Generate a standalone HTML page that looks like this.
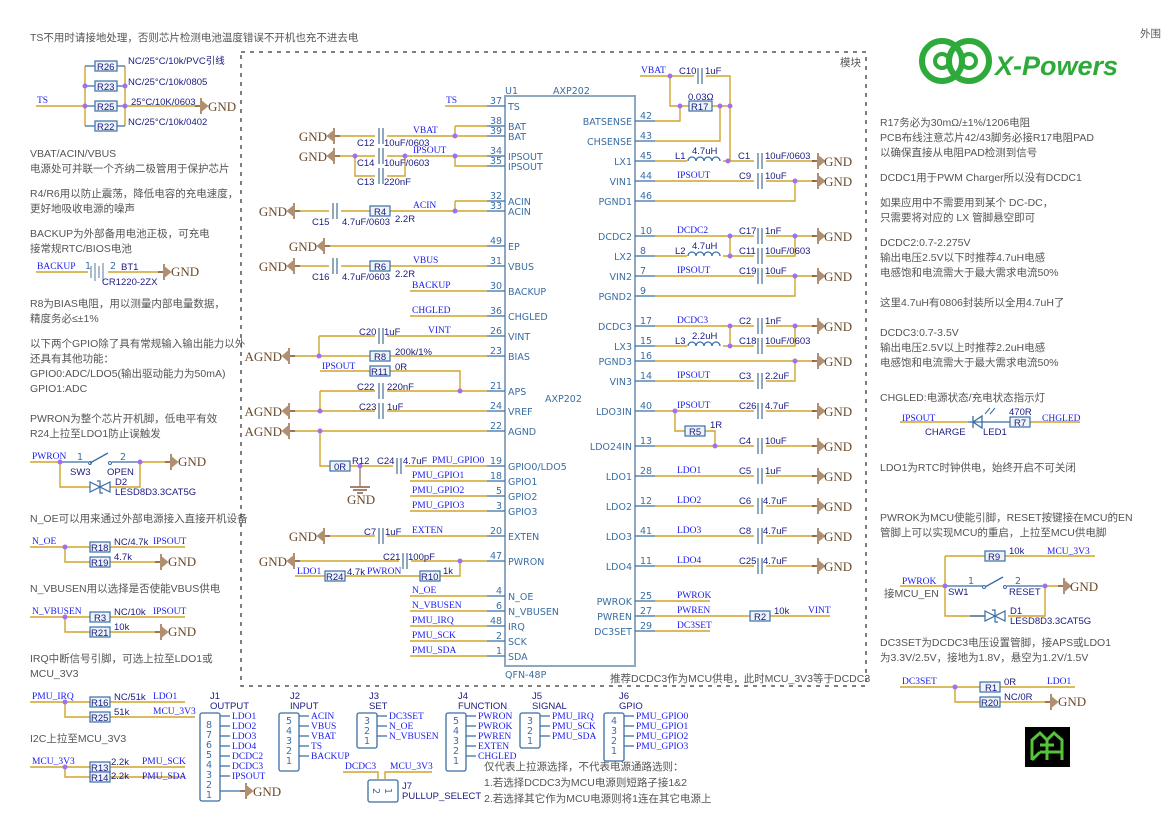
<!DOCTYPE html>
<html><head><meta charset="utf-8"><style>
body{margin:0;background:#fff}
svg{display:block}
.w{stroke:#d0a42a;stroke-width:1.4;fill:none}
.p{stroke:#3a6ea5;stroke-width:1.3;fill:none}
.n{font-family:"Liberation Serif",serif;font-size:9.5px;fill:#1a1aee}
.c{font-family:"Liberation Sans",sans-serif;font-size:9.5px;fill:#1a1a80}
.pl{font-family:"DejaVu Sans","Liberation Sans",sans-serif;font-size:9.5px;fill:#3a6ea5}
.g{font-family:"Liberation Serif",serif;font-size:13px;fill:#6b4a2a}
.ge{font-family:"Liberation Serif",serif;font-size:13px;fill:#6b4a2a;text-anchor:end}
.t{font-family:"Liberation Sans","Noto Sans CJK SC",sans-serif;font-size:10.5px;fill:#555}
.d{fill:#a070f0}
.r{fill:#eef3f8;stroke:#3a6ea5;stroke-width:1.2}
</style></head><body>
<svg width="1169" height="827" viewBox="0 0 1169 827" xmlns="http://www.w3.org/2000/svg">
<defs>
<g id="gr"><path d="M0 0H6" stroke="#6b3a1a" stroke-width="1.4"/><path d="M6 -8V8M6 -5L12 0L6 5Z" fill="#b09070" stroke="#b09070" stroke-width="2"/></g>
<g id="gl"><path d="M0 0H-6" stroke="#6b3a1a" stroke-width="1.4"/><path d="M-6 -8V8M-6 -5L-12 0L-6 5Z" fill="#b09070" stroke="#b09070" stroke-width="2"/></g>
<g id="cap"><rect x="-6" y="-1" width="12" height="2" fill="#fff"/><path d="M-2 -8V8M2 -8V8" stroke="#8fa8c0" stroke-width="2"/></g>
<g id="ind"><rect x="-1" y="-6" width="36" height="8" fill="#fff"/><path d="M0 0a4 4 0 0 1 8 0a4 4 0 0 1 8 0a4 4 0 0 1 8 0a4 4 0 0 1 8 0" stroke="#3a6ea5" stroke-width="1.3" fill="none"/></g>
</defs>

<text class="t" x="30" y="41">TS不用时请接地处理，否则芯片检测电池温度错误不开机也充不进去电</text>
<text class="t" x="1140" y="37">外围</text>
<text class="t" x="840" y="66">模块</text>
<rect x="241" y="52" width="625" height="634" fill="none" stroke="#555" stroke-width="1.5" stroke-dasharray="4,5"/>

<g fill="none" stroke="#2eaa3a" stroke-width="6">
<circle cx="942" cy="61" r="20"/><circle cx="969" cy="61" r="20"/>
</g>
<circle cx="942" cy="61" r="7" fill="none" stroke="#2eaa3a" stroke-width="4"/><circle cx="969" cy="61" r="7" fill="none" stroke="#2eaa3a" stroke-width="4"/>
<text x="995" y="75" font-family="Liberation Sans,sans-serif" font-weight="bold" font-style="italic" font-size="27" fill="#2eaa3a">X-Powers</text>

<text class="n" x="37" y="103">TS</text>
<path class="w" d="M36 106H85M85 66V126M125 66V126M125 106H195"/>
<path class="p" d="M85 66H125M85 86H125M85 106H125M85 126H125"/>
<rect class="r" x="95" y="61" width="22" height="10"/><text class="c" x="97" y="70">R26</text>
<rect class="r" x="95" y="81" width="22" height="10"/><text class="c" x="97" y="90">R23</text>
<rect class="r" x="95" y="101" width="22" height="10"/><text class="c" x="97" y="110">R25</text>
<rect class="r" x="95" y="121" width="22" height="10"/><text class="c" x="97" y="130">R22</text>
<circle class="d" cx="85" cy="86" r="2.5"/><circle class="d" cx="85" cy="106" r="2.5"/><circle class="d" cx="125" cy="86" r="2.5"/><circle class="d" cx="125" cy="106" r="2.5"/>
<text class="c" x="128" y="64">NC/25°C/10k/PVC引线</text>
<text class="c" x="128" y="85">NC/25°C/10k/0805</text>
<text class="c" x="131" y="105">25°C/10K/0603</text>
<text class="c" x="128" y="125">NC/25°C/10k/0402</text>
<use href="#gr" x="195" y="106"/><text class="g" x="208" y="111">GND</text>

<text class="t" x="30" y="157">VBAT/ACIN/VBUS</text>
<text class="t" x="30" y="172">电源处可并联一个齐纳二极管用于保护芯片</text>
<text class="t" x="30" y="197">R4/R6用以防止震荡，降低电容的充电速度，</text>
<text class="t" x="30" y="212">更好地吸收电源的噪声</text>
<text class="t" x="30" y="237">BACKUP为外部备用电池正极，可充电</text>
<text class="t" x="30" y="252">接常规RTC/BIOS电池</text>
<text class="n" x="37" y="269">BACKUP</text>
<path class="w" d="M36 272H88M108 272H158"/>
<path d="M91 266V278M95 263V281M99 266V278M103 263V281" stroke="#8fa8c0" stroke-width="1.5"/>
<text class="pl" x="85" y="269">1</text><text class="pl" x="110" y="269">2</text><text class="c" x="121" y="270">BT1</text><text class="c" x="102" y="285">CR1220-2ZX</text>
<use href="#gr" x="158" y="272"/><text class="g" x="171" y="276">GND</text>
<text class="t" x="30" y="307">R8为BIAS电阻，用以测量内部电量数据，</text>
<text class="t" x="30" y="322">精度务必≤±1%</text>
<text class="t" x="30" y="347">以下两个GPIO除了具有常规输入输出能力以外</text>
<text class="t" x="30" y="362">还具有其他功能：</text>
<text class="t" x="30" y="377">GPIO0:ADC/LDO5(输出驱动能力为50mA)</text>
<text class="t" x="30" y="392">GPIO1:ADC</text>
<text class="t" x="30" y="422">PWRON为整个芯片开机脚，低电平有效</text>
<text class="t" x="30" y="437">R24上拉至LDO1防止误触发</text>

<text class="n" x="32" y="459">PWRON</text>
<path class="w" d="M30 462H60M60 462V487H90M140 462H165M140 462V487H110"/>
<path class="p" d="M60 462H88M112 462H140"/><path d="M90 463L108 453" stroke="#3a6ea5" stroke-width="1.3"/>
<circle cx="90" cy="463" r="1.5" fill="none" stroke="#3a6ea5"/><circle cx="110" cy="463" r="1.5" fill="none" stroke="#3a6ea5"/>
<path d="M90 482L100 487L90 492ZM110 482L100 487L110 492ZM97 481L100 481L100 493L103 493" fill="none" stroke="#3a6ea5" stroke-width="1.2"/>
<circle class="d" cx="60" cy="462" r="2.5"/><circle class="d" cx="140" cy="462" r="2.5"/>
<text class="pl" x="77" y="460">1</text><text class="pl" x="120" y="460">2</text>
<text class="c" x="70" y="475">SW3</text><text class="c" x="107" y="475">OPEN</text>
<text class="c" x="115" y="485">D2</text><text class="c" x="115" y="495">LESD8D3.3CAT5G</text>
<use href="#gr" x="165" y="462"/><text class="g" x="178" y="466">GND</text>

<text class="t" x="30" y="522">N_OE可以用来通过外部电源接入直接开机设备</text>
<text class="n" x="32" y="544">N_OE</text>
<path class="w" d="M30 547H90M65 547V562H90M110 547H185M110 562H155"/>
<rect class="r" x="90" y="542" width="20" height="10"/><text class="c" x="91" y="551">R18</text>
<rect class="r" x="90" y="557" width="20" height="10"/><text class="c" x="91" y="566">R19</text>
<circle class="d" cx="65" cy="547" r="2.5"/>
<text class="c" x="114" y="545">NC/4.7k</text><text class="n" x="153" y="544">IPSOUT</text><text class="c" x="114" y="560">4.7k</text>
<use href="#gr" x="155" y="562"/><text class="g" x="168" y="566">GND</text>

<text class="t" x="30" y="592">N_VBUSEN用以选择是否使能VBUS供电</text>
<text class="n" x="32" y="614">N_VBUSEN</text>
<path class="w" d="M30 617H90M65 617V632H90M110 617H185M110 632H155"/>
<rect class="r" x="90" y="612" width="20" height="10"/><text class="c" x="94" y="621">R3</text>
<rect class="r" x="90" y="627" width="20" height="10"/><text class="c" x="91" y="636">R21</text>
<circle class="d" cx="65" cy="617" r="2.5"/>
<text class="c" x="114" y="615">NC/10k</text><text class="n" x="153" y="614">IPSOUT</text><text class="c" x="114" y="630">10k</text>
<use href="#gr" x="155" y="632"/><text class="g" x="168" y="636">GND</text>

<text class="t" x="30" y="662">IRQ中断信号引脚，可选上拉至LDO1或</text>
<text class="t" x="30" y="677">MCU_3V3</text>
<text class="n" x="32" y="699">PMU_IRQ</text>
<path class="w" d="M30 702H90M65 702V717H90M110 702H185M110 717H195"/>
<rect class="r" x="90" y="697" width="20" height="10"/><text class="c" x="91" y="706">R16</text>
<rect class="r" x="90" y="712" width="20" height="10"/><text class="c" x="91" y="721">R25</text>
<circle class="d" cx="65" cy="702" r="2.5"/>
<text class="c" x="114" y="700">NC/51k</text><text class="n" x="153" y="699">LDO1</text>
<text class="c" x="114" y="715">51k</text><text class="n" x="153" y="714">MCU_3V3</text>
<text class="t" x="30" y="742">I2C上拉至MCU_3V3</text>
<text class="n" x="32" y="764">MCU_3V3</text>
<path class="w" d="M30 767H90M65 767V777H90M110 767H185M110 777H185"/>
<rect class="r" x="90" y="762" width="20" height="10"/><text class="c" x="91" y="771">R13</text>
<rect class="r" x="90" y="772" width="20" height="10"/><text class="c" x="91" y="781">R14</text>
<circle class="d" cx="65" cy="767" r="2.5"/>
<text class="c" x="111" y="765">2.2k</text><text class="n" x="142" y="764">PMU_SCK</text>
<text class="c" x="111" y="779">2.2k</text><text class="n" x="142" y="779">PMU_SDA</text>

<rect x="505" y="96" width="130" height="570" fill="none" stroke="#8fa8c0" stroke-width="2"/>
<text class="pl" x="505" y="94">U1</text><text class="pl" x="553" y="94">AXP202</text>
<text class="pl" x="545" y="402" font-size="12.5">AXP202</text>
<text class="pl" x="505" y="678" font-size="12">QFN-48P</text>

<g class="p">
<path d="M487 106H505M487 126H505M487 136H505M487 156H505M487 166H505M487 201H505M487 211H505M487 246H505M487 266H505M487 291H505M487 316H505M487 336H505M487 356H505M487 391H505M487 411H505M487 431H505M487 466H505M487 481H505M487 496H505M487 511H505M487 536H505M487 561H505M487 596H505M487 611H505M487 626H505M487 641H505M487 656H505"/>
</g>
<g class="pl">
<text x="490" y="104">37</text><text x="490" y="124">38</text><text x="490" y="134">39</text><text x="490" y="154">34</text><text x="490" y="164">35</text><text x="490" y="199">32</text><text x="490" y="209">33</text><text x="490" y="244">49</text><text x="490" y="264">31</text><text x="490" y="289">30</text><text x="490" y="314">36</text><text x="490" y="334">26</text><text x="490" y="354">23</text><text x="490" y="389">21</text><text x="490" y="409">24</text><text x="490" y="429">22</text><text x="490" y="464">19</text><text x="490" y="479">18</text><text x="496" y="494">5</text><text x="496" y="509">3</text><text x="490" y="534">20</text><text x="490" y="559">47</text><text x="496" y="594">4</text><text x="496" y="609">6</text><text x="490" y="624">48</text><text x="496" y="639">2</text><text x="496" y="654">1</text>
<text x="508" y="110">TS</text><text x="508" y="130">BAT</text><text x="508" y="140">BAT</text><text x="508" y="160">IPSOUT</text><text x="508" y="170">IPSOUT</text><text x="508" y="205">ACIN</text><text x="508" y="215">ACIN</text><text x="508" y="250">EP</text><text x="508" y="270">VBUS</text><text x="508" y="295">BACKUP</text><text x="508" y="320">CHGLED</text><text x="508" y="340">VINT</text><text x="508" y="360">BIAS</text><text x="508" y="395">APS</text><text x="508" y="415">VREF</text><text x="508" y="435">AGND</text><text x="508" y="470">GPIO0/LDO5</text><text x="508" y="485">GPIO1</text><text x="508" y="500">GPIO2</text><text x="508" y="515">GPIO3</text><text x="508" y="540">EXTEN</text><text x="508" y="565">PWRON</text><text x="508" y="600">N_OE</text><text x="508" y="615">N_VBUSEN</text><text x="508" y="630">IRQ</text><text x="508" y="645">SCK</text><text x="508" y="660">SDA</text>
</g>

<g class="w">
<path d="M445 106H487"/>
<path d="M340 136H487M455 126H487M455 126V136"/>
<path d="M340 156H487M455 156V166H487M355 156V176H405V156"/>
<path d="M300 211H487M455 201H487M455 201V211"/>
<path d="M330 246H487"/>
<path d="M300 266H487"/>
<path d="M410 291H487M410 316H487"/>
<path d="M319 336H487M319 336V356"/>
<path d="M295 356H487"/>
<path d="M320 371H460V391"/>
<path d="M320 391H487M320 391V411"/>
<path d="M295 411H487"/>
<path d="M295 431H487M320 431V466H330"/>
<path d="M350 466H487"/>
<path d="M410 481H487M410 496H487M410 511H487"/>
<path d="M330 536H487"/>
<path d="M300 561H487M295 576H460V561"/>
<path d="M410 596H487M410 611H487M410 626H487M410 641H487M410 656H487"/>
</g>
<path d="M360 466V486" stroke="#a08060" stroke-width="1.4"/>
<path d="M350 487H370M353 490H367M357 493H363" stroke="#6b3a1a" stroke-width="1.2"/>
<text class="g" x="347" y="504" font-size="12">GND</text>
<g>
<use href="#cap" x="381" y="136"/><use href="#cap" x="381" y="156"/><use href="#cap" x="381" y="176"/>
<use href="#cap" x="335" y="211"/><use href="#cap" x="335" y="266"/>
<use href="#cap" x="381" y="336"/><use href="#cap" x="381" y="391"/><use href="#cap" x="381" y="411"/>
<use href="#cap" x="399" y="466"/><use href="#cap" x="381" y="536"/><use href="#cap" x="405" y="561"/>
</g>
<rect class="r" x="370" y="206" width="20" height="10"/><text class="c" x="374" y="215">R4</text>
<rect class="r" x="370" y="261" width="20" height="10"/><text class="c" x="374" y="270">R6</text>
<rect class="r" x="370" y="351" width="20" height="10"/><text class="c" x="374" y="360">R8</text>
<rect class="r" x="370" y="366" width="20" height="10"/><text class="c" x="371" y="375">R11</text>
<rect class="r" x="330" y="461" width="20" height="10"/><text class="c" x="334" y="470">0R</text>
<rect class="r" x="325" y="571" width="20" height="10"/><text class="c" x="326" y="580">R24</text>
<rect class="r" x="420" y="571" width="20" height="10"/><text class="c" x="421" y="580">R10</text>
<g fill="#a070f0">
<circle cx="455" cy="136" r="2.5"/><circle cx="355" cy="156" r="2.5"/><circle cx="405" cy="156" r="2.5"/><circle cx="455" cy="156" r="2.5"/><circle cx="455" cy="211" r="2.5"/><circle cx="319" cy="356" r="2.5"/><circle cx="460" cy="391" r="2.5"/><circle cx="320" cy="411" r="2.5"/><circle cx="320" cy="431" r="2.5"/><circle cx="360" cy="466" r="2.5"/><circle cx="460" cy="561" r="2.5"/>
</g>
<use href="#gl" x="340" y="136"/><text class="ge" x="327" y="141">GND</text>
<use href="#gl" x="340" y="156"/><text class="ge" x="327" y="161">GND</text>
<use href="#gl" x="300" y="211"/><text class="ge" x="287" y="216">GND</text>
<use href="#gl" x="330" y="246"/><text class="ge" x="317" y="251">GND</text>
<use href="#gl" x="300" y="266"/><text class="ge" x="287" y="271">GND</text>
<use href="#gl" x="295" y="356"/><text class="ge" x="282" y="361">AGND</text>
<use href="#gl" x="295" y="411"/><text class="ge" x="282" y="416">AGND</text>
<use href="#gl" x="295" y="431"/><text class="ge" x="282" y="436">AGND</text>
<use href="#gl" x="330" y="536"/><text class="ge" x="317" y="541">GND</text>
<use href="#gl" x="300" y="561"/><text class="ge" x="287" y="566">GND</text>
<g class="n">
<text x="446" y="103">TS</text><text x="413" y="133">VBAT</text><text x="413" y="153">IPSOUT</text><text x="413" y="208">ACIN</text><text x="413" y="263">VBUS</text><text x="412" y="288">BACKUP</text><text x="412" y="313">CHGLED</text><text x="428" y="333">VINT</text><text x="322" y="369">IPSOUT</text><text x="432" y="463">PMU_GPIO0</text><text x="412" y="478">PMU_GPIO1</text><text x="412" y="493">PMU_GPIO2</text><text x="412" y="508">PMU_GPIO3</text><text x="412" y="533">EXTEN</text><text x="297" y="574">LDO1</text><text x="367" y="574">PWRON</text><text x="412" y="593">N_OE</text><text x="412" y="608">N_VBUSEN</text><text x="412" y="623">PMU_IRQ</text><text x="412" y="638">PMU_SCK</text><text x="412" y="653">PMU_SDA</text>
</g>
<g class="c">
<text x="357" y="146">C12</text><text x="384" y="146">10uF/0603</text><text x="357" y="166">C14</text><text x="384" y="166">10uF/0603</text><text x="357" y="185">C13</text><text x="384" y="185">220nF</text>
<text x="312" y="225">C15</text><text x="342" y="225">4.7uF/0603</text><text x="395" y="222">2.2R</text>
<text x="312" y="280">C16</text><text x="342" y="280">4.7uF/0603</text><text x="395" y="277">2.2R</text>
<text x="359" y="335">C20</text><text x="384" y="335">1uF</text><text x="395" y="355">200k/1%</text><text x="395" y="370">0R</text>
<text x="357" y="390">C22</text><text x="387" y="390">220nF</text><text x="359" y="410">C23</text><text x="387" y="410">1uF</text>
<text x="352" y="464">R12</text><text x="377" y="464">C24</text><text x="403" y="464">4.7uF</text>
<text x="364" y="535">C7</text><text x="385" y="535">1uF</text><text x="383" y="560">C21</text><text x="408" y="560">100pF</text>
<text x="347" y="575">4.7k</text><text x="443" y="574">1k</text>
</g>

<path class="p" d="M635 121H655M635 141H655M635 161H655M635 181H655M635 201H655M635 236H655M635 256H655M635 276H655M635 296H655M635 326H655M635 346H655M635 361H655M635 381H655M635 411H655M635 446H655M635 476H655M635 506H655M635 536H655M635 566H655M635 601H655M635 616H655M635 631H655"/>
<g class="pl" text-anchor="end">
<text x="632" y="125">BATSENSE</text><text x="632" y="145">CHSENSE</text><text x="632" y="165">LX1</text><text x="632" y="185">VIN1</text><text x="632" y="205">PGND1</text><text x="632" y="240">DCDC2</text><text x="632" y="260">LX2</text><text x="632" y="280">VIN2</text><text x="632" y="300">PGND2</text><text x="632" y="330">DCDC3</text><text x="632" y="350">LX3</text><text x="632" y="365">PGND3</text><text x="632" y="385">VIN3</text><text x="632" y="415">LDO3IN</text><text x="632" y="450">LDO24IN</text><text x="632" y="480">LDO1</text><text x="632" y="510">LDO2</text><text x="632" y="540">LDO3</text><text x="632" y="570">LDO4</text><text x="632" y="605">PWROK</text><text x="632" y="620">PWREN</text><text x="632" y="635">DC3SET</text>
</g>
<g class="pl">
<text x="640" y="119">42</text><text x="640" y="139">43</text><text x="640" y="159">45</text><text x="640" y="179">44</text><text x="640" y="199">46</text><text x="640" y="234">10</text><text x="640" y="254">8</text><text x="640" y="274">7</text><text x="640" y="294">9</text><text x="640" y="324">17</text><text x="640" y="344">15</text><text x="640" y="359">16</text><text x="640" y="379">14</text><text x="640" y="409">40</text><text x="640" y="444">13</text><text x="640" y="474">28</text><text x="640" y="504">12</text><text x="640" y="534">41</text><text x="640" y="564">11</text><text x="640" y="599">25</text><text x="640" y="614">27</text><text x="640" y="629">29</text>
</g>
<g class="w">
<path d="M640 76H730V161M670 76V106H730M720 106V141H655M680 106V121H655"/>
<path d="M655 161H815M655 181H815M655 201H795V181"/>
<path d="M655 236H815M655 256H795V236M730 236V256"/>
<path d="M655 276H815M655 296H795V276"/>
<path d="M655 326H815M655 346H795V326M730 326V346"/>
<path d="M655 361H815M655 381H795V361"/>
<path d="M655 411H815M675 411V431H715V446M655 446H815"/>
<path d="M655 476H815M655 506H815M655 536H815M655 566H815"/>
<path d="M655 601H710M655 616H830M655 631H710"/>
</g>
<rect class="r" x="689" y="101" width="23" height="10"/><text class="c" x="691" y="110">R17</text>
<rect class="r" x="685" y="426" width="20" height="10"/><text class="c" x="689" y="435">R5</text>
<rect class="r" x="750" y="611" width="20" height="10"/><text class="c" x="754" y="620">R2</text>
<use href="#cap" x="700" y="76"/>
<use href="#ind" x="688" y="161"/><use href="#ind" x="688" y="256"/><use href="#ind" x="688" y="346"/>
<g><use href="#cap" x="760" y="161"/><use href="#cap" x="760" y="181"/><use href="#cap" x="760" y="236"/><use href="#cap" x="760" y="256"/><use href="#cap" x="760" y="276"/><use href="#cap" x="760" y="326"/><use href="#cap" x="760" y="346"/><use href="#cap" x="760" y="381"/><use href="#cap" x="760" y="411"/><use href="#cap" x="760" y="446"/><use href="#cap" x="760" y="476"/><use href="#cap" x="760" y="506"/><use href="#cap" x="760" y="536"/><use href="#cap" x="760" y="566"/></g>
<g fill="#a070f0">
<circle cx="670" cy="76" r="2.5"/><circle cx="680" cy="106" r="2.5"/><circle cx="720" cy="106" r="2.5"/><circle cx="730" cy="106" r="2.5"/><circle cx="728" cy="161" r="2.5"/><circle cx="795" cy="181" r="2.5"/><circle cx="730" cy="236" r="2.5"/><circle cx="730" cy="256" r="2.5"/><circle cx="795" cy="236" r="2.5"/><circle cx="795" cy="276" r="2.5"/><circle cx="730" cy="326" r="2.5"/><circle cx="730" cy="346" r="2.5"/><circle cx="795" cy="326" r="2.5"/><circle cx="795" cy="361" r="2.5"/><circle cx="675" cy="411" r="2.5"/><circle cx="715" cy="446" r="2.5"/>
</g>
<g>
<use href="#gr" x="812" y="161"/><text class="g" x="824" y="166">GND</text>
<use href="#gr" x="812" y="181"/><text class="g" x="824" y="186">GND</text>
<use href="#gr" x="812" y="236"/><text class="g" x="824" y="241">GND</text>
<use href="#gr" x="812" y="276"/><text class="g" x="824" y="281">GND</text>
<use href="#gr" x="812" y="326"/><text class="g" x="824" y="331">GND</text>
<use href="#gr" x="812" y="361"/><text class="g" x="824" y="366">GND</text>
<use href="#gr" x="812" y="411"/><text class="g" x="824" y="416">GND</text>
<use href="#gr" x="812" y="446"/><text class="g" x="824" y="451">GND</text>
<use href="#gr" x="812" y="476"/><text class="g" x="824" y="481">GND</text>
<use href="#gr" x="812" y="506"/><text class="g" x="824" y="511">GND</text>
<use href="#gr" x="812" y="536"/><text class="g" x="824" y="541">GND</text>
<use href="#gr" x="812" y="566"/><text class="g" x="824" y="571">GND</text>
</g>
<g class="n">
<text x="641" y="73">VBAT</text><text x="677" y="178">IPSOUT</text><text x="677" y="233">DCDC2</text><text x="677" y="273">IPSOUT</text><text x="677" y="323">DCDC3</text><text x="677" y="378">IPSOUT</text><text x="677" y="408">IPSOUT</text><text x="677" y="473">LDO1</text><text x="677" y="503">LDO2</text><text x="677" y="533">LDO3</text><text x="677" y="563">LDO4</text><text x="677" y="598">PWROK</text><text x="677" y="613">PWREN</text><text x="677" y="628">DC3SET</text><text x="808" y="613">VINT</text>
</g>
<g class="c">
<text x="679" y="74">C10</text><text x="705" y="74">1uF</text><text x="688" y="100">0.03Ω</text>
<text x="675" y="159">L1</text><text x="692" y="154">4.7uH</text><text x="738" y="159">C1</text><text x="765" y="159">10uF/0603</text>
<text x="739" y="179">C9</text><text x="765" y="179">10uF</text>
<text x="739" y="234">C17</text><text x="765" y="234">1nF</text><text x="675" y="254">L2</text><text x="692" y="249">4.7uH</text><text x="739" y="254">C11</text><text x="765" y="254">10uF/0603</text>
<text x="739" y="274">C19</text><text x="765" y="274">10uF</text>
<text x="739" y="324">C2</text><text x="765" y="324">1nF</text><text x="675" y="344">L3</text><text x="692" y="339">2.2uH</text><text x="739" y="344">C18</text><text x="765" y="344">10uF/0603</text>
<text x="739" y="379">C3</text><text x="765" y="379">2.2uF</text>
<text x="739" y="409">C26</text><text x="765" y="409">4.7uF</text><text x="710" y="428">1R</text>
<text x="739" y="444">C4</text><text x="765" y="444">10uF</text><text x="739" y="474">C5</text><text x="765" y="474">1uF</text>
<text x="739" y="504">C6</text><text x="763" y="504">4.7uF</text><text x="739" y="534">C8</text><text x="763" y="534">4.7uF</text><text x="739" y="564">C25</text><text x="763" y="564">4.7uF</text>
<text x="774" y="614">10k</text>
</g>
<text class="t" x="610" y="682">推荐DCDC3作为MCU供电，此时MCU_3V3等于DCDC3</text>

<g class="t">
<text x="880" y="126">R17务必为30mΩ/±1%/1206电阻</text>
<text x="880" y="141">PCB布线注意芯片42/43脚务必接R17电阻PAD</text>
<text x="880" y="156">以确保直接从电阻PAD检测到信号</text>
<text x="880" y="181">DCDC1用于PWM Charger所以没有DCDC1</text>
<text x="880" y="206">如果应用中不需要用到某个 DC-DC，</text>
<text x="880" y="221">只需要将对应的 LX 管脚悬空即可</text>
<text x="880" y="246">DCDC2:0.7-2.275V</text>
<text x="880" y="261">输出电压2.5V以下时推荐4.7uH电感</text>
<text x="880" y="276">电感饱和电流需大于最大需求电流50%</text>
<text x="880" y="306">这里4.7uH有0806封装所以全用4.7uH了</text>
<text x="880" y="336">DCDC3:0.7-3.5V</text>
<text x="880" y="351">输出电压2.5V以上时推荐2.2uH电感</text>
<text x="880" y="366">电感饱和电流需大于最大需求电流50%</text>
<text x="880" y="401">CHGLED:电源状态/充电状态指示灯</text>
<text x="880" y="471">LDO1为RTC时钟供电，始终开启不可关闭</text>
<text x="880" y="521">PWROK为MCU使能引脚，RESET按键接在MCU的EN</text>
<text x="880" y="536">管脚上可以实现MCU的重启，上拉至MCU供电脚</text>
<text x="880" y="646">DC3SET为DCDC3电压设置管脚，接APS或LDO1</text>
<text x="880" y="661">为3.3V/2.5V，接地为1.8V，悬空为1.2V/1.5V</text>
</g>
<path class="w" d="M900 422H968M1030 422H1080"/>
<path d="M968 422H982M973 416L973 428M973 422L982 416L982 428Z" fill="none" stroke="#3a6ea5" stroke-width="1.3"/>
<path d="M985 414L990 408M990 414L995 408" stroke="#3a6ea5"/>
<path class="p" d="M982 422H1010"/>
<rect class="r" x="1010" y="417" width="20" height="10"/><text class="c" x="1014" y="426">R7</text>
<text class="n" x="902" y="421">IPSOUT</text><text class="c" x="925" y="435">CHARGE</text><text class="c" x="983" y="435">LED1</text><text class="c" x="1009" y="415">470R</text><text class="n" x="1042" y="421">CHGLED</text>
<path class="w" d="M900 586H945M945 556V616H985M945 556H985M1005 556H1095M1045 586H1058M1045 586V616H1008"/>
<rect class="r" x="985" y="551" width="20" height="10"/><text class="c" x="988" y="560">R9</text>
<path class="p" d="M945 586H983M1007 586H1045"/><path d="M985 587L1003 577" stroke="#3a6ea5" stroke-width="1.3"/>
<circle cx="984" cy="587" r="1.5" fill="none" stroke="#3a6ea5"/><circle cx="1005" cy="587" r="1.5" fill="none" stroke="#3a6ea5"/>
<path d="M985 611L995 616L985 621ZM1005 611L995 616L1005 621ZM992 610L995 610L995 622L998 622" fill="none" stroke="#3a6ea5" stroke-width="1.2"/>
<path class="p" d="M985 616H970"/>
<circle class="d" cx="945" cy="586" r="2.5"/><circle class="d" cx="1045" cy="586" r="2.5"/>
<text class="n" x="902" y="584">PWROK</text><text class="t" x="884" y="597">接MCU_EN</text>
<text class="c" x="948" y="595">SW1</text><text class="pl" x="968" y="584">1</text><text class="pl" x="1015" y="584">2</text><text class="c" x="1009" y="595">RESET</text>
<text class="c" x="1009" y="554">10k</text><text class="n" x="1047" y="554">MCU_3V3</text>
<text class="c" x="1010" y="614">D1</text><text class="c" x="1010" y="624">LESD8D3.3CAT5G</text>
<use href="#gr" x="1058" y="586"/><text class="g" x="1070" y="591">GND</text>
<path class="w" d="M900 687H980M955 687V702H980M1000 687H1075M1000 702H1045"/>
<rect class="r" x="980" y="682" width="20" height="10"/><text class="c" x="985" y="691">R1</text>
<rect class="r" x="980" y="697" width="20" height="10"/><text class="c" x="981" y="706">R20</text>
<circle class="d" cx="955" cy="687" r="2.5"/>
<text class="n" x="902" y="684">DC3SET</text><text class="c" x="1004" y="685">0R</text><text class="n" x="1047" y="684">LDO1</text><text class="c" x="1004" y="700">NC/0R</text>
<use href="#gr" x="1045" y="702"/><text class="g" x="1058" y="706">GND</text>
<rect x="1025" y="727" width="45" height="40" fill="#000"/>
<path d="M1032 760V740L1040 733L1047 740L1054 733L1062 740V760M1040 745H1054M1040 752H1062M1047 740V760M1032 760L1040 752" stroke="#55c43a" stroke-width="3" fill="none"/>

<g class="c">
<text x="210" y="699">J1</text><text x="210" y="709">OUTPUT</text>
<text x="290" y="699">J2</text><text x="290" y="709">INPUT</text>
<text x="369" y="699">J3</text><text x="369" y="709">SET</text>
<text x="458" y="699">J4</text><text x="458" y="709">FUNCTION</text>
<text x="532" y="699">J5</text><text x="532" y="709">SIGNAL</text>
<text x="619" y="699">J6</text><text x="619" y="709">GPIO</text>
</g>
<g fill="none" stroke="#3a6ea5" stroke-width="1.3">
<rect x="200" y="713" width="20" height="88" rx="2"/>
<rect x="279" y="713" width="20" height="58" rx="2"/>
<rect x="357" y="713" width="20" height="35" rx="2"/>
<rect x="446" y="713" width="20" height="58" rx="2"/>
<rect x="520" y="713" width="20" height="35" rx="2"/>
<rect x="604" y="713" width="20" height="48" rx="2"/>
<rect x="368" y="780" width="30" height="22" rx="2"/>
<path d="M220 716H230M220 726H230M220 736H230M220 746H230M220 756H230M220 766H230M220 776H230M220 791H240"/>
<path d="M299 716H309M299 726H309M299 736H309M299 746H309M299 756H309"/>
<path d="M377 716H387M377 726H387M377 736H387"/>
<path d="M466 716H476M466 726H476M466 736H476M466 746H476M466 756H476"/>
<path d="M540 716H550M540 726H550M540 736H550"/>
<path d="M624 716H634M624 726H634M624 736H634M624 746H634"/>
</g>
<use href="#gr" x="240" y="791"/><text class="g" x="253" y="796">GND</text>
<g class="pl">
<text x="206" y="728">8</text><text x="206" y="738">7</text><text x="206" y="748">6</text><text x="206" y="758">5</text><text x="206" y="768">4</text><text x="206" y="778">3</text><text x="206" y="788">2</text><text x="206" y="798">1</text>
<text x="286" y="724">5</text><text x="286" y="734">4</text><text x="286" y="744">3</text><text x="286" y="754">2</text><text x="286" y="764">1</text>
<text x="364" y="724">3</text><text x="364" y="734">2</text><text x="364" y="744">1</text>
<text x="453" y="724">5</text><text x="453" y="734">4</text><text x="453" y="744">3</text><text x="453" y="754">2</text><text x="453" y="764">1</text>
<text x="527" y="724">3</text><text x="527" y="734">2</text><text x="527" y="744">1</text>
<text x="611" y="724">4</text><text x="611" y="734">3</text><text x="611" y="744">2</text><text x="611" y="754">1</text>
</g>
<g class="n">
<text x="232" y="719">LDO1</text><text x="232" y="729">LDO2</text><text x="232" y="739">LDO3</text><text x="232" y="749">LDO4</text><text x="232" y="759">DCDC2</text><text x="232" y="769">DCDC3</text><text x="232" y="779">IPSOUT</text>
<text x="311" y="719">ACIN</text><text x="311" y="729">VBUS</text><text x="311" y="739">VBAT</text><text x="311" y="749">TS</text><text x="311" y="759">BACKUP</text>
<text x="389" y="719">DC3SET</text><text x="389" y="729">N_OE</text><text x="389" y="739">N_VBUSEN</text>
<text x="478" y="719">PWRON</text><text x="478" y="729">PWROK</text><text x="478" y="739">PWREN</text><text x="478" y="749">EXTEN</text><text x="478" y="759">CHGLED</text>
<text x="552" y="719">PMU_IRQ</text><text x="552" y="729">PMU_SCK</text><text x="552" y="739">PMU_SDA</text>
<text x="636" y="719">PMU_GPIO0</text><text x="636" y="729">PMU_GPIO1</text><text x="636" y="739">PMU_GPIO2</text><text x="636" y="749">PMU_GPIO3</text>
<text x="345" y="769">DCDC3</text><text x="390" y="769">MCU_3V3</text>
</g>
<path class="w" d="M343 772H378V780M385 780V772H432"/>
<text class="pl" x="374" y="795" transform="rotate(90 377 791)">2</text><text class="pl" x="386" y="795" transform="rotate(90 389 791)">1</text>
<text class="c" x="402" y="789">J7</text><text class="c" x="402" y="799">PULLUP_SELECT</text>
<text class="t" x="484" y="770">仅代表上拉源选择，不代表电源通路选则：</text>
<text class="t" x="484" y="786">1.若选择DCDC3为MCU电源则短路子接1&amp;2</text>
<text class="t" x="484" y="802">2.若选择其它作为MCU电源则将1连在其它电源上</text>
</svg>
</body></html>
